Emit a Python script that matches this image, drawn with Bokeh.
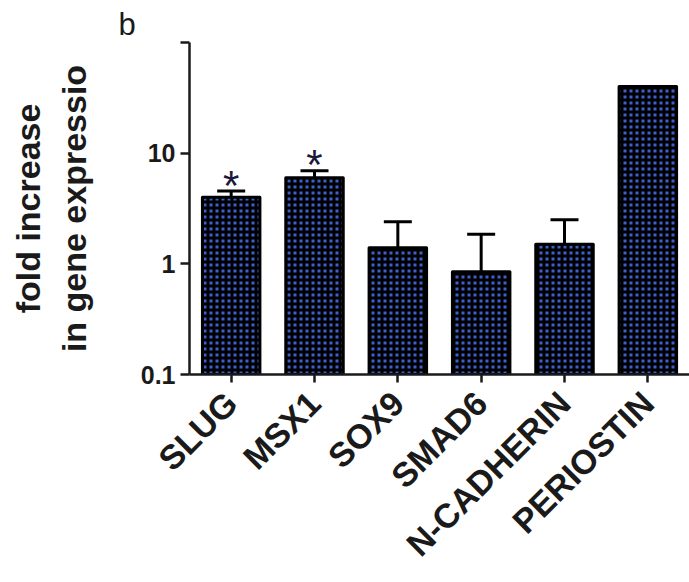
import math
from bokeh.plotting import figure
from bokeh.models import (ColumnDataSource, FactorRange, Range1d, FixedTicker,
                          Whisker, TeeHead, Title)
from bokeh.core.properties import value
from bokeh.embed import file_html
from bokeh.resources import INLINE

genes = ["SLUG", "MSX1", "SOX9", "SMAD6", "N-CADHERIN", "PERIOSTIN"]
fold = [4.0, 6.0, 1.4, 0.85, 1.5, 40.0]
err = [0.55, 0.95, 1.0, 1.0, 1.0, 0.0]
stars = ["*", "*", "", "", "", ""]
y_ticks = [0.1, 1, 10, 100]
y_tick_labels = ["0.1", "1", "10", ""]

FONT = "Liberation Sans"

src = ColumnDataSource(dict(gene=genes, fold=fold, bottom=[0.1] * len(genes)))

p = figure(width=689, height=582, x_range=FactorRange(*genes, range_padding=0),
           y_range=Range1d(0.1, 100), y_axis_type="log",
           output_backend="svg", toolbar_location=None,
           min_border_left=189, min_border_right=0,
           min_border_top=42, min_border_bottom=208)
p.outline_line_color = None
p.xgrid.grid_line_color = None
p.ygrid.grid_line_color = None

p.vbar(x="gene", top="fold", bottom="bottom", width=0.69, source=src,
       fill_color="#3d60cf", line_color="black", line_width=3,
       line_join="round",
       hatch_pattern="+", hatch_color="black", hatch_scale=6, hatch_weight=3)

eb_g = [g for g, e in zip(genes, err) if e > 0]
eb_lo = [f for f, e in zip(fold, err) if e > 0]
eb_hi = [f + e for f, e in zip(fold, err) if e > 0]
esrc = ColumnDataSource(dict(base=eb_g, lower=eb_lo, upper=eb_hi))
wh = Whisker(base="base", lower="lower", upper="upper", source=esrc,
             line_color="black", line_width=3, lower_head=None,
             upper_head=TeeHead(size=28, line_color="black", line_width=3))
p.add_layout(wh)

st_g = [g for g, s in zip(genes, stars) if s]
st_y = [f + e for f, e, s in zip(fold, err, stars) if s]
st_t = [s for s in stars if s]
p.text(x=st_g, y=st_y, text=st_t, text_align="center", text_baseline="alphabetic",
       y_offset=-6, text_font=value(FONT), text_font_size="42px",
       text_color="#1a1a3a")

# y axis
ya = p.yaxis[0]
ya.ticker = FixedTicker(ticks=y_ticks, minor_ticks=[])
ya.major_label_overrides = {t: l for t, l in zip(y_ticks, y_tick_labels)}
ya.axis_label = "fold increase\nin gene expressio"
ya.axis_label_text_font = FONT
ya.axis_label_text_font_style = "bold"
ya.axis_label_text_font_size = "34px"
ya.axis_label_text_color = "#1a1a1a"
ya.axis_label_standoff = 45
ya.major_label_text_font = FONT
ya.major_label_text_font_style = "bold"
ya.major_label_text_font_size = "25px"
ya.major_label_text_color = "#1a1a1a"
ya.major_label_standoff = 5
ya.axis_line_width = 2.5
ya.axis_line_color = "#1a1a1a"
ya.major_tick_line_width = 2.5
ya.major_tick_line_color = "#1a1a1a"
ya.major_tick_out = 9
ya.major_tick_in = 0
ya.minor_tick_line_color = None

# x axis
xa = p.xaxis[0]
xa.major_label_orientation = math.pi / 4
xa.major_label_text_font = FONT
xa.major_label_text_font_style = "bold"
xa.major_label_text_font_size = "34px"
xa.major_label_text_color = "#1a1a1a"
xa.major_label_standoff = 15
xa.axis_line_width = 2.5
xa.axis_line_color = "#1a1a1a"
xa.major_tick_line_width = 2.5
xa.major_tick_line_color = "#1a1a1a"
xa.major_tick_out = 8
xa.major_tick_in = 0
xa.minor_tick_line_color = None

p.add_layout(Title(text="b", align="left", offset=-71, standoff=2,
                   text_font=FONT, text_font_size="31px",
                   text_font_style="normal", text_color="#1a1a1a"), "above")

open("out.html", "w").write(file_html(p, INLINE))
